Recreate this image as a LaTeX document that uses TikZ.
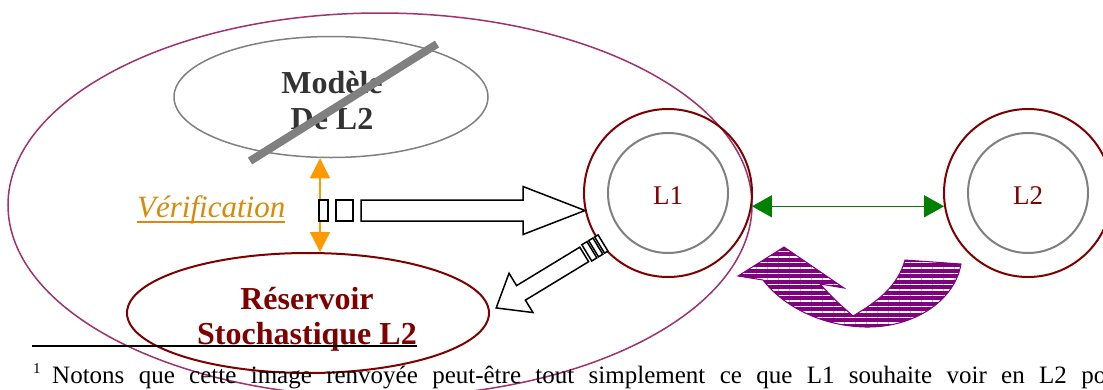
\documentclass[tikz,border=0pt]{standalone}
\usepackage{fontspec}
\setmainfont{Liberation Serif}
\usetikzlibrary{shapes.geometric,arrows.meta,patterns.meta,calc}
\definecolor{bigE}{RGB}{160,50,110}
\definecolor{dred}{RGB}{128,0,0}
\definecolor{gmod}{RGB}{128,128,128}
\definecolor{txtgray}{RGB}{51,51,51}
\definecolor{orangeA}{RGB}{255,153,0}
\definecolor{orangeT}{RGB}{217,138,10}
\definecolor{greenA}{RGB}{0,128,0}
\definecolor{purpA}{RGB}{128,0,128}
\tikzset{
  hollow/.style={draw=black, fill=white, line width=1.5pt, line join=miter},
  bigell/.style={ellipse, draw=bigE, line width=1.5pt, inner sep=0pt},
  modell/.style={ellipse, draw=gmod, line width=1.5pt, inner sep=0pt},
  modtxt/.style={inner sep=0pt, text=txtgray, align=center, font=\fontsize{32}{36}\selectfont\bfseries},
  resell/.style={ellipse, draw=dred, line width=2pt, inner sep=0pt},
  restxt/.style={inner sep=0pt, text=dred, align=center, font=\fontsize{32}{35}\selectfont\bfseries},
  outcirc/.style={circle, draw=dred, line width=2pt, inner sep=0pt, minimum size=168pt},
  incirc/.style={circle, draw=gmod, line width=2pt, inner sep=0pt, minimum size=120pt},
  ltxt/.style={inner sep=0pt, text=dred, font=\fontsize{27}{30}\selectfont},
  strike/.style={draw=gmod, line width=8pt},
}
\begin{document}
\begin{tikzpicture}[x=1pt,y=-1pt]
\useasboundingbox (0,0) rectangle (1103,389);
\clip (0,0) rectangle (1103,389);
\fill[white] (0,0) rectangle (1103,389);

% big enclosing ellipse
\node[bigell, minimum width=744pt, minimum height=384pt] (big) at (380,205) {};

% model ellipse
\node[modell, minimum width=314pt, minimum height=121pt] (mod) at (331,97) {};
\node[modtxt] (modT) at (332,101) {Modèle\\De L2};
\draw[strike] (250,161) -- (437,44);

% reservoir ellipse
\node[resell, minimum width=362pt, minimum height=120pt] (res) at (308,313) {};
\node[restxt] (resT) at (307,319) {Réservoir\\Stochastique L2};

% circles L1 and L2
\node[outcirc] (L1o) at (668,193) {};
\node[incirc] (L1i) at (668,193) {};
\node[ltxt] (L1t) at (668,196) {L1};
\node[outcirc] (L2o) at (1028,193) {};
\node[incirc] (L2i) at (1028,193) {};
\node[ltxt] (L2t) at (1028,196) {L2};

% green double arrow
\draw[greenA, line width=1.5pt, {Triangle[length=20pt,width=22pt]}-{Triangle[length=20pt,width=22pt]}]
  (L1o.-9) -- (L2o.189);

% orange verification arrow
\coordinate (vx) at (320,0);
\draw[orangeA, line width=1.2pt, {Triangle[length=20pt,width=20pt]}-{Triangle[length=20pt,width=20pt]}]
  (vx |- mod.south) -- (vx |- res.north);

% Verification label
\node[anchor=base west, inner sep=0pt, text=orangeT, font=\fontsize{31}{33}\selectfont\itshape]
  (ver) at (137,217) {Vérification};
\draw[orangeT, line width=2pt] ($(ver.base west)+(0,5)$) -- ($(ver.base east)+(0,5)$);

% horizontal hollow arrow
\begin{scope}[shift={(319,210.5)}]
  \draw[hollow] (0,-10.5) rectangle (9,10.5);
  \draw[hollow] (17,-10.5) rectangle (34,10.5);
  \draw[hollow] (42,-10.5) -- (204,-10.5) -- (204,-24) -- (266,0) -- (204,24) -- (204,10.5) -- (42,10.5) -- cycle;
\end{scope}

% diagonal hollow arrow
\begin{scope}[shift={(603,243)}, rotate=211.3]
  \draw[hollow] (0,-9.5) rectangle (4,9.5);
  \draw[hollow] (6,-9.5) rectangle (11,9.5);
  \draw[hollow] (13,-9.5) rectangle (19,9.5);
  \draw[hollow] (22,-8.5) -- (96,-8.5) -- (96,-23) -- (125,0) -- (96,23) -- (96,8.5) -- (22,8.5) -- cycle;
\end{scope}

% purple curved arrow
\path[fill=purpA, postaction={pattern={Lines[angle=0,distance=5.5pt,line width=1.3pt]}, pattern color=white}]
  (961,264) .. controls (955,300) and (915,328) .. (865,327)
  .. controls (820,326) and (782,305) .. (763,280)
  -- (738,276) -- (784,247) -- (844,288) -- (820,284)
  .. controls (835,300) .. (853,316)
  .. controls (880,300) and (898,285) .. (905,260) -- cycle;
\draw[purpA, line width=1pt]
  (961,264) .. controls (955,300) and (915,328) .. (865,327)
  .. controls (820,326) and (782,305) .. (763,280)
  -- (738,276) -- (784,247) -- (844,288) -- (820,284)
  .. controls (835,300) .. (853,316)
  .. controls (880,300) and (898,285) .. (905,260) -- cycle;

% footnote rule and text
\coordinate (fnA) at (32,346);
\coordinate (fnB) at (417,346);
\draw[black, line width=2pt] (fnA) -- (fnB);
\node[anchor=base west, inner sep=0pt, font=\fontsize{15}{16}\selectfont] (fnm) at (33,373) {1};
\node[anchor=base west, inner sep=0pt, font=\fontsize{25}{28}\selectfont] (fn) at (52,383)
  {\makebox[1054pt][s]{Notons que cette image renvoyée peut-être tout simplement ce que L1 souhaite voir en L2 po}};
\end{tikzpicture}
\end{document}
